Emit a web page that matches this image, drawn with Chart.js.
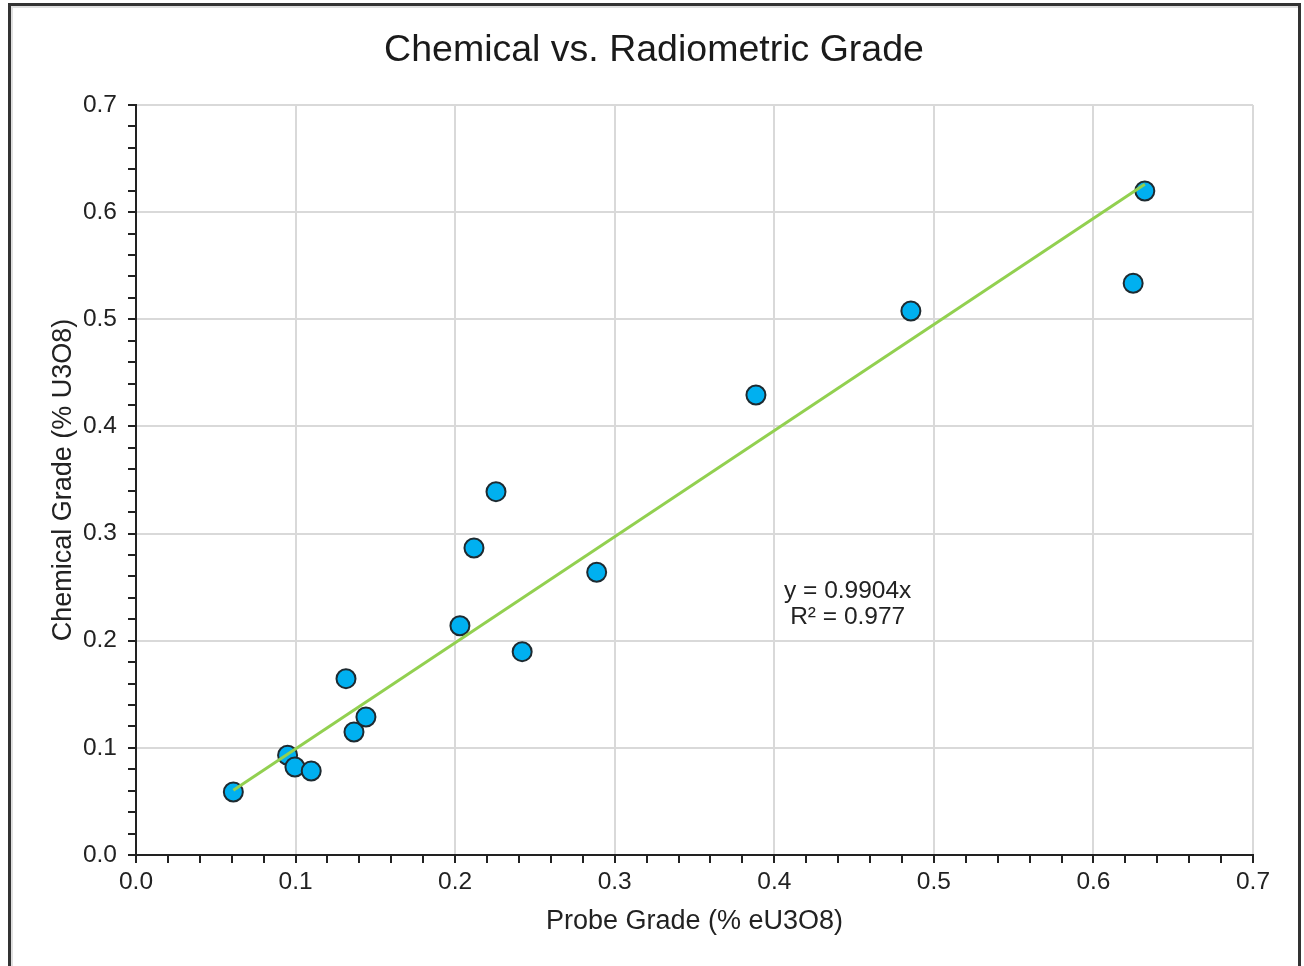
<!DOCTYPE html>
<html>
<head>
<meta charset="utf-8">
<script src="https://cdn.jsdelivr.net/npm/chart.js@4"></script>
<style>
  html, body { margin: 0; padding: 0; background: #fff; overflow: hidden; }
  #frame {
    position: absolute; left: 8px; top: 3px; width: 1287px; height: 1000px;
    border: 3px solid #333; box-shadow: inset 2px 2px 0 #e0e0e0;
  }
  #wrap { position: absolute; left: 0; top: 0; width: 1304px; height: 966px; }
</style>
</head>
<body>
<div id="frame"></div>
<div id="wrap"><canvas id="myChart" width="1304" height="966"></canvas></div>
<script>
// probe grade (% eU3O8) vs chemical grade (% U3O8)
const probeGrade = [0.061, 0.095, 0.0996, 0.1098, 0.1316, 0.1366, 0.1441, 0.203, 0.2118, 0.2256, 0.242, 0.2887, 0.3885, 0.4856, 0.6249, 0.6322];
const chemGrade = [0.0588, 0.0931, 0.0821, 0.0784, 0.1646, 0.1148, 0.1288, 0.214, 0.2865, 0.3391, 0.1898, 0.2639, 0.4293, 0.5077, 0.5336, 0.6197];
const slope = 0.9904;
const rSquared = 0.977;
const eqLabel = ["y = 0.9904x", "R\u00b2 = 0.977"];
const eqPos = [0.446, 0.246]; // where the equation sits, in data units

const fontFam = "'Liberation Sans', Arial, sans-serif";
const ink = "#222";

let xMin = Math.min(...probeGrade);
let xMax = Math.max(...probeGrade);
let trend = [
  { x: xMin, y: slope * xMin },
  { x: xMax, y: slope * xMax },
];
let points = probeGrade.map((x, i) => ({ x: x, y: chemGrade[i] }));

function isMajor(v) {
  return Math.abs(v * 10 - Math.round(v * 10)) < 1e-6;
}

// trendline equation text
const eqPlugin = {
  id: "eq",
  afterDatasetsDraw(chart) {
    let c = chart.ctx;
    let px = chart.scales.x.getPixelForValue(eqPos[0]);
    let py = chart.scales.y.getPixelForValue(eqPos[1]);
    c.save();
    c.font = "24.5px " + fontFam;
    c.fillStyle = ink;
    c.textAlign = "center";
    c.textBaseline = "middle";
    c.fillText(eqLabel[0], px, py);
    c.fillText(eqLabel[1], px, py + 26);
    c.restore();
  },
};

function axisOpts(titleText, extra) {
  return Object.assign({
    type: "linear",
    min: 0,
    max: 0.7,
    border: { display: true, color: ink, width: 2 },
    grid: {
      color: (ctx) => (ctx.tick && isMajor(ctx.tick.value) ? "#d9d9d9" : "rgba(0,0,0,0)"),
      lineWidth: 2,
      tickColor: ink,
      tickWidth: 2,
      tickLength: 8,
      drawTicks: true,
    },
    ticks: {
      stepSize: 0.02,
      autoSkip: false,
      maxRotation: 0,
      color: ink,
      font: { family: fontFam, size: 24.5 },
      callback: (v) => (isMajor(v) ? v.toFixed(1) : ""),
    },
    title: {
      display: true,
      text: titleText,
      color: ink,
      font: { family: fontFam, size: 27 },
    },
  }, extra);
}

let xAxis = axisOpts("Probe Grade (% eU3O8)", {
  afterFit: (scale) => { scale.height = 100; },
});
xAxis.ticks.padding = 5;
xAxis.title.padding = { top: 0, bottom: 17 };

let yAxis = axisOpts("Chemical Grade (% U3O8)", {
  afterFit: (scale) => { scale.width = 81; },
});
yAxis.ticks.padding = 11;
yAxis.title.padding = { top: -8, bottom: 0 };

const ctx = document.getElementById("myChart").getContext("2d");

new Chart(ctx, {
  type: "scatter",
  data: {
    datasets: [
      {
        type: "line",
        data: trend,
        borderColor: "#92d050",
        borderWidth: 3,
        pointRadius: 0,
        fill: false,
      },
      {
        data: points,
        backgroundColor: "#00b0f0",
        borderColor: "#1e2a30",
        borderWidth: 2,
        pointRadius: 9.5,
        pointHoverRadius: 9.5,
      },
    ],
  },
  options: {
    responsive: false,
    animation: false,
    layout: { padding: { left: 55, right: 51, top: 20, bottom: 11 } },
    plugins: {
      legend: { display: false },
      tooltip: { enabled: false },
      title: {
        display: true,
        text: "Chemical vs. Radiometric Grade",
        color: "#1a1a1a",
        font: { family: fontFam, size: 37.5, weight: "normal" },
        padding: { top: 8, bottom: 32 },
      },
    },
    scales: { x: xAxis, y: yAxis },
  },
  plugins: [eqPlugin],
});
</script>
</body>
</html>
